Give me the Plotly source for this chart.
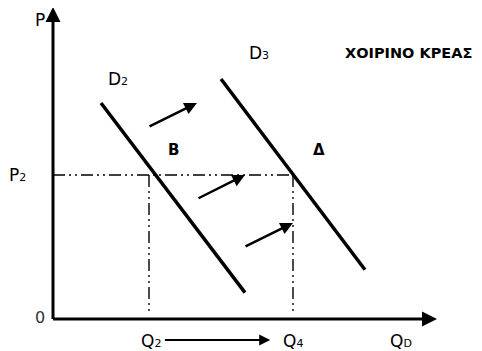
import plotly.graph_objects as go

# ---- data (economic units) ----
title_text = "ΧΟΙΡΙΝΟ ΚΡΕΑΣ"
d2_q = [2.0, 8.0]
d2_p = [9.0, 1.1]
d3_q = [7.0, 13.0]
d3_p = [10.0, 2.05]
p2 = 6.0
q2 = 4.0
q4 = 10.0
q_axis_max = 16.0
p_axis_max = 13.0
# shift arrows: (tail_q, tail_p, head_q, head_p)
shift_arrows = [
    (3.96, 8.0, 6.0, 9.0),
    (6.0, 5.0, 8.0, 6.0),
    (7.96, 3.0, 10.0, 4.0),
]
bottom_arrow = (4.6, -0.88, 9.05, -0.88)

FONT = "DejaVu Sans"
OFF = 8  # browser body margin

fig = go.Figure()

dash_pat = "12px,4px,2px,4px,2px,4px"
fig.add_trace(go.Scatter(x=[0, q4], y=[p2, p2], mode="lines",
                         line=dict(color="black", width=1.4, dash=dash_pat),
                         hoverinfo="skip", showlegend=False))
for q in (q2, q4):
    fig.add_trace(go.Scatter(x=[q, q], y=[p2, 0.25], mode="lines",
                             line=dict(color="black", width=1.4, dash=dash_pat),
                             hoverinfo="skip", showlegend=False))

fig.add_trace(go.Scatter(x=d2_q, y=d2_p, mode="lines",
                         line=dict(color="black", width=3.5),
                         hoverinfo="skip", showlegend=False))
fig.add_trace(go.Scatter(x=d3_q, y=d3_p, mode="lines",
                         line=dict(color="black", width=3.5),
                         hoverinfo="skip", showlegend=False))

anns = []
def arrow(tq, tp, hq, hp, w, size):
    anns.append(dict(x=hq, y=hp, ax=tq, ay=tp, xref="x", yref="y",
                     axref="x", ayref="y", showarrow=True, arrowhead=2,
                     arrowwidth=w, arrowsize=size, arrowcolor="black", text=""))

arrow(0, -0.06, 0, p_axis_max, 3, 1.0)
arrow(-0.06, 0, q_axis_max, 0, 3, 1.0)
for a in shift_arrows:
    arrow(*a, 2.5, 1.0)
arrow(*bottom_arrow, 2, 1.1)

def label(q, p, text, size=16, bold=False, color="black"):
    t = f"<b>{text}</b>" if bold else text
    anns.append(dict(x=q, y=p, xref="x", yref="y", text=t, showarrow=False,
                     font=dict(family=FONT, size=size, color=color),
                     xanchor="center", yanchor="middle"))

def sub(s):
    return f"<span style='font-size:11px'>{s}</span>"

label(-0.54, 12.45, "P", 17)
label(-1.5, 6.0, "P" + sub("2"), 17)
label(-0.54, 0.05, "0", 16, color="#333333")
label(2.7, 10.0, "D" + sub("2"), 17)
label(8.6, 11.1, "D" + sub("3"), 17)
label(14.8, 11.1, title_text, 14.5, bold=True)
label(5.04, 7.04, "B", 15, bold=True)
label(11.1, 7.04, "Δ", 15, bold=True)
label(4.1, -0.92, "Q" + sub("2"), 17)
label(10.0, -0.92, "Q" + sub("4"), 17)
label(14.5, -0.92, "Q" + sub("D"), 17)

fig.update_layout(
    width=482 - OFF, height=351 - OFF,
    margin=dict(l=0, r=0, t=0, b=0),
    paper_bgcolor="white", plot_bgcolor="white",
    xaxis=dict(range=[(OFF - 53) / 24, (482 - 53) / 24], visible=False, fixedrange=True),
    yaxis=dict(range=[(319 - 351) / 24, (319 - OFF) / 24], visible=False, fixedrange=True),
    annotations=anns,
    showlegend=False,
)
fig.write_html("out.html")
